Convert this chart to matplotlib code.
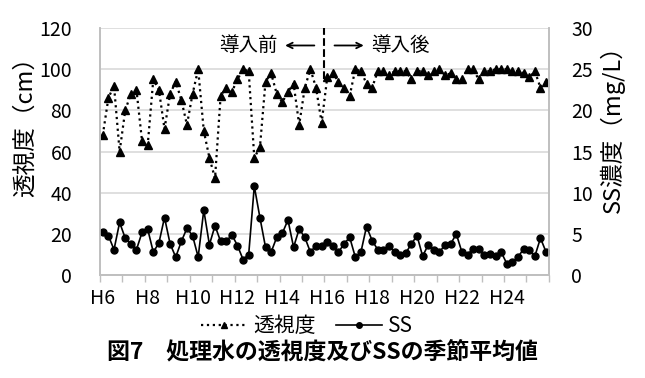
import matplotlib
matplotlib.use('Agg')
import matplotlib.pyplot as plt
import numpy as np

plt.rcParams['font.family'] = ['Noto Sans CJK JP', 'DejaVu Sans']

#==============================================================================
# data (seasonal averages, H6 - H25)
#==============================================================================
toushido = [68, 86, 92, 60, 80, 88, 90, 65, 63, 95, 90, 71, 88, 94, 85, 73, 88, 100, 70, 57,
            47, 87, 91, 89, 95, 100, 99, 57, 62, 94, 98, 88, 84, 89, 93, 73, 91, 100, 91, 74,
            96, 98, 94, 91, 87, 100, 99, 93, 91, 99, 99, 97, 99, 99, 99, 95, 99, 99, 97, 99,
            100, 97, 98, 95, 95, 100, 100, 95, 99, 99, 100, 100, 100, 99, 99, 98, 96, 99, 91, 94]
ss = [5.3, 4.8, 3.1, 6.4, 4.5, 3.8, 3.1, 5.2, 5.6, 2.8, 3.9, 7.0, 3.8, 2.2, 4.1, 5.7, 4.8, 2.2, 7.9, 3.7,
      6.0, 4.1, 4.1, 4.9, 3.6, 1.9, 2.5, 10.8, 7.0, 3.4, 2.8, 4.6, 5.1, 6.7, 3.4, 5.6, 4.6, 2.8, 3.6, 3.6,
      4.0, 3.5, 2.8, 3.8, 4.6, 2.2, 2.8, 5.9, 4.2, 3.1, 3.1, 3.6, 2.8, 2.4, 2.7, 3.8, 4.8, 2.3, 3.7, 3.0,
      2.8, 3.7, 3.8, 5.0, 2.8, 2.5, 3.2, 3.2, 2.5, 2.6, 2.3, 2.8, 1.4, 1.6, 2.2, 3.2, 3.0, 2.3, 4.5, 2.8]
year_labels = ['H6', 'H8', 'H10', 'H12', 'H14', 'H16', 'H18', 'H20', 'H22', 'H24']
intro_pos = 39.5   # boundary between H15 and H16

x = np.arange(len(toushido))
gray = '#bfbfbf'

fig = plt.figure(figsize=(6.45, 3.78), dpi=100)
ax = fig.add_axes([0.155, 0.272, 0.696, 0.654])
ax2 = ax.twinx()

# left axis : transparency
ax.set_ylim(0, 120)
ax.set_yticks(np.arange(0, 121, 20))
ax.yaxis.grid(True, color='#d9d9d9', lw=1.2)
ax.set_axisbelow(True)
l1, = ax.plot(x, toushido, ls=':', lw=1.6, color='black', marker='^', ms=5.8, label='透視度')

# right axis : SS
ax2.set_ylim(0, 30)
ax2.set_yticks(np.arange(0, 31, 5))
l2, = ax2.plot(x, ss, ls='-', lw=1.2, color='black', marker='o', ms=5, label='SS')

ax.set_xlim(-0.5, len(x) - 0.5)
ax.set_xticks(np.arange(0, len(x), 8))
ax.set_xticklabels(year_labels)
ax.set_xticks(np.arange(-0.5, len(x), 4), minor=True)
ax.tick_params(axis='x', which='major', length=0, pad=9, labelsize=14)
ax.tick_params(axis='x', which='minor', length=5, color=gray, width=1)
ax.tick_params(axis='y', length=0, pad=20, labelsize=14)
ax2.tick_params(axis='y', length=0, pad=16, labelsize=14)

for a in [ax, ax2]:
    a.spines['top'].set_visible(False)
    for s in ['left', 'right', 'bottom']:
        a.spines[s].set_color(gray)
        a.spines[s].set_linewidth(1.2)

# introduction boundary
ax.plot([intro_pos, intro_pos], [95, 120], ls='--', lw=1.5, color='black', clip_on=False)
ax.annotate('', xy=(intro_pos - 7.5, 111.5), xytext=(intro_pos - 1.3, 111.5),
            arrowprops=dict(arrowstyle='->', lw=1.3, color='black'))
ax.annotate('', xy=(intro_pos + 7.5, 111.5), xytext=(intro_pos + 1.3, 111.5),
            arrowprops=dict(arrowstyle='->', lw=1.3, color='black'))
ax.text(intro_pos - 8.3, 111.5, '導入前', ha='right', va='center', fontsize=14)
ax.text(intro_pos + 8.3, 111.5, '導入後', ha='left', va='center', fontsize=14)

fig.text(0.039, 0.68, '透視度（cm）', rotation=90, ha='center', va='center', fontsize=17)
fig.text(0.950, 0.675, 'SS濃度（mg/L）', rotation=90, ha='center', va='center', fontsize=17)

fig.legend(handles=[l1, l2], loc='center', bbox_to_anchor=(0.476, 0.138), ncol=2,
           frameon=False, fontsize=15, handlelength=2.2, columnspacing=1.0, handletextpad=0.3,
           markerscale=0.8)
fig.text(0.5, 0.068, '図7　処理水の透視度及びSSの季節平均値', ha='center', va='center',
         fontsize=16.5, fontweight='bold')

fig.savefig('out.png', dpi=100)
